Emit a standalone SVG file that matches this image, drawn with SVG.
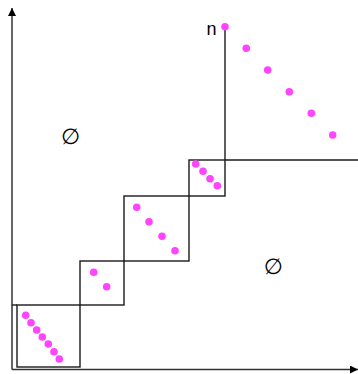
<svg xmlns="http://www.w3.org/2000/svg" width="358" height="374" viewBox="0 0 358 374">
<style>
.ln{stroke:#1a1a1a;stroke-width:1.4;fill:none}
.ax{stroke:#333;stroke-width:1.5;fill:none}
.dot{fill:#ff44ff}
.lbl{font-family:"DejaVu Sans",sans-serif;fill:#000}
</style>
<defs>
<marker id="arr" viewBox="0 0 10 10" refX="10" refY="5" markerWidth="8" markerHeight="8" markerUnits="userSpaceOnUse" orient="auto">
<path d="M0,0 L10,5 L0,10 z" fill="#000"/>
</marker>
</defs>
<g id="connectors">
<line class="ax" x1="12" y1="369.5" x2="12" y2="8" marker-end="url(#arr)"/>
<line class="ax" x1="12" y1="369.5" x2="358" y2="369.5" marker-end="url(#arr)"/>
<line class="ln" x1="12" y1="305" x2="17" y2="305"/>
<line class="ln" x1="225" y1="26" x2="225" y2="160"/>
<line class="ln" x1="225" y1="160" x2="358" y2="160"/>
</g>
<g id="box1"><rect class="ln" x="17" y="305" width="63" height="62"/>
<circle class="dot" cx="25.7" cy="315.3" r="3.8"/><circle class="dot" cx="31" cy="322.7" r="3.8"/><circle class="dot" cx="36.7" cy="330" r="3.8"/><circle class="dot" cx="42.3" cy="337" r="3.8"/><circle class="dot" cx="48.3" cy="344" r="3.8"/><circle class="dot" cx="54" cy="351.7" r="3.8"/><circle class="dot" cx="59.3" cy="359" r="3.8"/></g>
<g id="box2"><rect class="ln" x="80" y="261" width="44" height="44"/>
<circle class="dot" cx="93.7" cy="272.3" r="3.8"/><circle class="dot" cx="106.7" cy="286.7" r="3.8"/></g>
<g id="box3"><rect class="ln" x="124" y="196" width="65" height="65"/>
<circle class="dot" cx="136.7" cy="207.3" r="3.8"/><circle class="dot" cx="149" cy="221.7" r="3.8"/><circle class="dot" cx="162" cy="236.3" r="3.8"/><circle class="dot" cx="175" cy="250.7" r="3.8"/></g>
<g id="box4"><rect class="ln" x="189" y="160" width="36" height="36"/>
<circle class="dot" cx="195.7" cy="164" r="3.8"/><circle class="dot" cx="203" cy="171.3" r="3.8"/><circle class="dot" cx="210" cy="178.7" r="3.8"/><circle class="dot" cx="217.3" cy="185.7" r="3.8"/></g>
<g id="top">
<circle class="dot" cx="225" cy="26.7" r="3.8"/><circle class="dot" cx="246.3" cy="48.3" r="3.8"/><circle class="dot" cx="267.7" cy="70" r="3.8"/><circle class="dot" cx="289.3" cy="91.7" r="3.8"/><circle class="dot" cx="311.3" cy="113.3" r="3.8"/><circle class="dot" cx="332.7" cy="135" r="3.8"/>
<text class="lbl" x="211.5" y="35" font-size="18" text-anchor="middle" style="font-family:'Liberation Sans',sans-serif">n</text>
</g>
<g id="empty1"><text class="lbl" x="70.5" y="143.5" font-size="22" text-anchor="middle">∅</text></g>
<g id="empty2"><text class="lbl" x="273.3" y="273.5" font-size="22" text-anchor="middle">∅</text></g>
</svg>
